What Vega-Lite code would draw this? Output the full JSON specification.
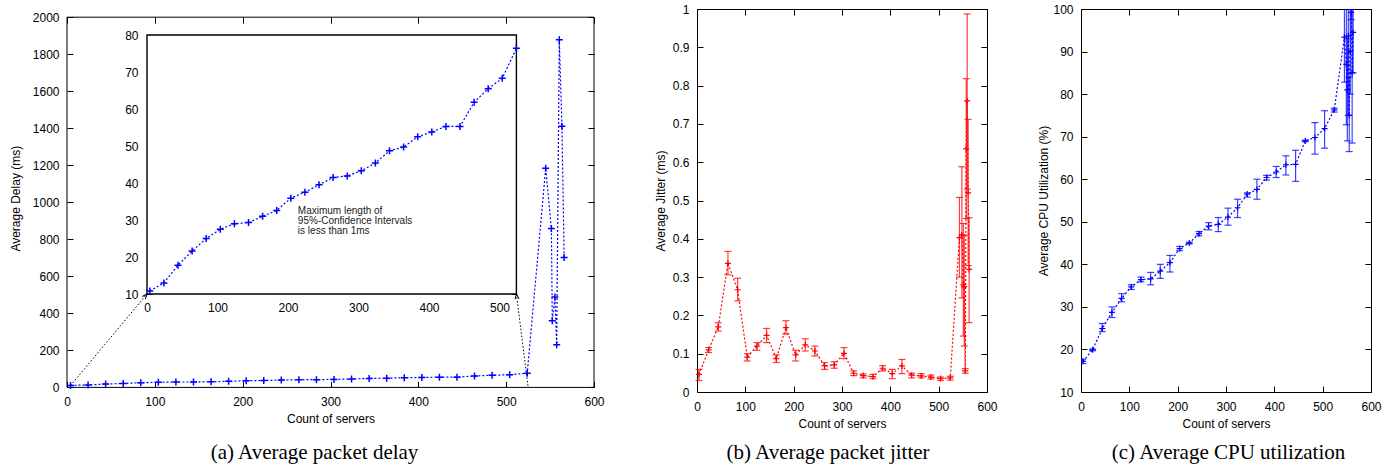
{
  "$schema": "https://vega.github.io/schema/vega-lite/v6.json",
  "background": "white",
  "padding": {"left": 9, "top": 2, "right": 0, "bottom": 0},
  "config": {
    "view": {"stroke": "#000", "strokeWidth": 1},
    "axis": {"domain": false, "grid": false, "tickColor": "#000", "tickSize": -6, "tickWidth": 1,
      "labelFont": "Liberation Sans", "labelFontSize": 12, "labelColor": "#000", "labelFlush": false, "labelOverlap": false,
      "titleFont": "Liberation Sans", "titleFontSize": 12, "titleFontWeight": "normal", "titleColor": "#000"},
    "axisX": {"labelPadding": 15, "titlePadding": 6},
    "axisY": {"labelPadding": 14},
    "title": {"font": "Liberation Serif", "fontSize": 21, "fontWeight": "normal", "color": "#000", "orient": "bottom", "anchor": "middle", "frame": "group"}
  },
  "datasets": {
    "delay": [
      {"x": 4, "y": 10.8}, {"x": 24, "y": 13.0}, {"x": 44, "y": 17.8}, {"x": 64, "y": 21.6}, {"x": 84, "y": 25.0},
      {"x": 104, "y": 27.5}, {"x": 124, "y": 29.0}, {"x": 144, "y": 29.3}, {"x": 164, "y": 31.0}, {"x": 184, "y": 32.6},
      {"x": 204, "y": 35.9}, {"x": 224, "y": 37.5}, {"x": 244, "y": 39.5}, {"x": 264, "y": 41.5}, {"x": 284, "y": 41.9},
      {"x": 304, "y": 43.3}, {"x": 324, "y": 45.4}, {"x": 344, "y": 48.7}, {"x": 364, "y": 49.7}, {"x": 384, "y": 52.5},
      {"x": 404, "y": 53.8}, {"x": 424, "y": 55.3}, {"x": 444, "y": 55.3}, {"x": 464, "y": 61.8}, {"x": 484, "y": 65.5},
      {"x": 504, "y": 68.3}, {"x": 524, "y": 76.4},
      {"x": 545, "y": 1184}, {"x": 551.5, "y": 858}, {"x": 552.5, "y": 360}, {"x": 555.5, "y": 488},
      {"x": 557.5, "y": 230}, {"x": 560.5, "y": 1878}, {"x": 563.5, "y": 1411}, {"x": 566, "y": 702}
    ],
    "zoomlines": [
      {"seg": "l", "x": 4, "y": 10}, {"seg": "l", "x": 91.1, "y": 504.6},
      {"seg": "r", "x": 525, "y": 0}, {"seg": "r", "x": 511.7, "y": 504.6}
    ],
    "arrows": [
      {"x": 91.1, "y": 504.6, "angle": 40},
      {"x": 511.7, "y": 504.6, "angle": -7}
    ],
    "jitter": [
      {"x": 4, "y": 0.046, "lo": 0.030, "hi": 0.059}, {"x": 24, "y": 0.110, "lo": 0.103, "hi": 0.116},
      {"x": 44, "y": 0.170, "lo": 0.159, "hi": 0.181}, {"x": 64, "y": 0.336, "lo": 0.306, "hi": 0.367},
      {"x": 84, "y": 0.267, "lo": 0.238, "hi": 0.297}, {"x": 104, "y": 0.091, "lo": 0.081, "hi": 0.100},
      {"x": 124, "y": 0.120, "lo": 0.109, "hi": 0.129}, {"x": 144, "y": 0.148, "lo": 0.129, "hi": 0.166},
      {"x": 164, "y": 0.087, "lo": 0.077, "hi": 0.097}, {"x": 184, "y": 0.168, "lo": 0.151, "hi": 0.186},
      {"x": 204, "y": 0.097, "lo": 0.081, "hi": 0.109}, {"x": 224, "y": 0.123, "lo": 0.107, "hi": 0.139},
      {"x": 244, "y": 0.107, "lo": 0.094, "hi": 0.120}, {"x": 264, "y": 0.068, "lo": 0.059, "hi": 0.077},
      {"x": 284, "y": 0.071, "lo": 0.062, "hi": 0.079}, {"x": 304, "y": 0.101, "lo": 0.087, "hi": 0.116},
      {"x": 324, "y": 0.049, "lo": 0.043, "hi": 0.055}, {"x": 344, "y": 0.043, "lo": 0.037, "hi": 0.047},
      {"x": 364, "y": 0.040, "lo": 0.035, "hi": 0.046}, {"x": 384, "y": 0.062, "lo": 0.055, "hi": 0.069},
      {"x": 404, "y": 0.048, "lo": 0.035, "hi": 0.059}, {"x": 424, "y": 0.068, "lo": 0.048, "hi": 0.085},
      {"x": 444, "y": 0.044, "lo": 0.037, "hi": 0.049}, {"x": 464, "y": 0.042, "lo": 0.037, "hi": 0.048},
      {"x": 484, "y": 0.039, "lo": 0.034, "hi": 0.044}, {"x": 504, "y": 0.035, "lo": 0.030, "hi": 0.039},
      {"x": 524, "y": 0.037, "lo": 0.031, "hi": 0.041},
      {"x": 543, "y": 0.403, "lo": 0.300, "hi": 0.508}, {"x": 548, "y": 0.410, "lo": 0.246, "hi": 0.588},
      {"x": 551, "y": 0.280, "lo": 0.146, "hi": 0.440}, {"x": 553, "y": 0.275, "lo": 0.120, "hi": 0.410},
      {"x": 555, "y": 0.055, "lo": 0.049, "hi": 0.061}, {"x": 557, "y": 0.635, "lo": 0.453, "hi": 0.818},
      {"x": 559, "y": 0.760, "lo": 0.530, "hi": 0.987}, {"x": 561, "y": 0.520, "lo": 0.330, "hi": 0.712},
      {"x": 563, "y": 0.320, "lo": 0.181, "hi": 0.455}
    ],
    "cpu": [
      {"x": 4, "y": 17.2, "lo": 16.7, "hi": 17.7}, {"x": 24, "y": 19.9, "lo": 19.7, "hi": 20.1},
      {"x": 44, "y": 24.9, "lo": 24.2, "hi": 26.1}, {"x": 64, "y": 28.7, "lo": 27.5, "hi": 30.0},
      {"x": 84, "y": 32.0, "lo": 31.2, "hi": 33.1}, {"x": 104, "y": 34.7, "lo": 34.1, "hi": 35.2},
      {"x": 124, "y": 36.4, "lo": 35.9, "hi": 37.0}, {"x": 144, "y": 36.6, "lo": 35.2, "hi": 38.1},
      {"x": 164, "y": 38.4, "lo": 36.7, "hi": 40.0}, {"x": 184, "y": 40.4, "lo": 38.2, "hi": 42.1},
      {"x": 204, "y": 43.7, "lo": 43.2, "hi": 44.2}, {"x": 224, "y": 45.0, "lo": 44.8, "hi": 45.2},
      {"x": 244, "y": 47.2, "lo": 46.7, "hi": 47.7}, {"x": 264, "y": 49.0, "lo": 48.1, "hi": 49.8},
      {"x": 284, "y": 49.4, "lo": 47.7, "hi": 51.0}, {"x": 304, "y": 51.1, "lo": 49.2, "hi": 53.2},
      {"x": 324, "y": 53.3, "lo": 51.0, "hi": 55.3}, {"x": 344, "y": 56.5, "lo": 55.8, "hi": 56.8},
      {"x": 364, "y": 57.6, "lo": 55.3, "hi": 60.0}, {"x": 384, "y": 60.4, "lo": 59.8, "hi": 60.9},
      {"x": 404, "y": 61.7, "lo": 60.4, "hi": 63.0}, {"x": 424, "y": 63.4, "lo": 61.0, "hi": 65.5},
      {"x": 444, "y": 63.5, "lo": 59.5, "hi": 66.8}, {"x": 464, "y": 69.0, "lo": 68.8, "hi": 69.2},
      {"x": 484, "y": 69.8, "lo": 65.9, "hi": 73.3}, {"x": 504, "y": 71.9, "lo": 67.3, "hi": 76.1},
      {"x": 524, "y": 76.3, "lo": 75.8, "hi": 76.7},
      {"x": 545, "y": 93.4, "lo": 82.8, "hi": 104}, {"x": 549, "y": 87.0, "lo": 72.8, "hi": 101},
      {"x": 551, "y": 81.0, "lo": 69.0, "hi": 93.0}, {"x": 553, "y": 93.7, "lo": 75.0, "hi": 104},
      {"x": 555, "y": 75.0, "lo": 66.5, "hi": 84.0}, {"x": 557, "y": 90.0, "lo": 80.0, "hi": 100.5},
      {"x": 559, "y": 99.2, "lo": 97.5, "hi": 101}, {"x": 561, "y": 85.0, "lo": 68.5, "hi": 101},
      {"x": 563, "y": 94.5, "lo": 85.0, "hi": 104}
    ]
  },
  "spacing": 48,
  "hconcat": [
    {
      "width": 527,
      "height": 378.4,
      "view": {"stroke": null},
      "title": {"text": "(a) Average packet delay", "dx": -16, "offset": 18},
      "layer": [
        {
          "layer": [
            {
              "data": {"values": [{"frame": 1}]},
              "mark": {"type": "rect", "fill": null, "fillOpacity": 0, "stroke": "#000", "strokeWidth": 1},
              "encoding": {
                "x": {"datum": 0, "type": "quantitative", "scale": {"domain": [0, 600], "nice": false},
                  "axis": {"orient": "bottom", "values": [0, 100, 200, 300, 400, 500, 600], "title": "Count of servers"}},
                "x2": {"datum": 600},
                "y": {"datum": 0, "type": "quantitative", "scale": {"domain": [0, 2044.3], "nice": false},
                  "axis": {"orient": "left", "values": [0, 200, 400, 600, 800, 1000, 1200, 1400, 1600, 1800, 2000], "format": "d", "title": "Average Delay (ms)", "titlePadding": 9.5}},
                "y2": {"datum": 2000}
              }
            },
            {
              "data": {"name": "zoomlines"},
              "mark": {"type": "line", "color": "#000", "strokeWidth": 1, "strokeDash": [1.5, 2]},
              "encoding": {
                "x": {"field": "x", "type": "quantitative", "axis": null},
                "y": {"field": "y", "type": "quantitative", "axis": null},
                "detail": {"field": "seg"}
              }
            },
            {
              "data": {"name": "arrows"},
              "mark": {"type": "point", "shape": "M-0.4,1L0,0L0.4,1", "filled": false, "color": "#000", "size": 100, "strokeWidth": 1, "opacity": 1},
              "encoding": {
                "x": {"field": "x", "type": "quantitative", "axis": null},
                "y": {"field": "y", "type": "quantitative", "axis": null},
                "angle": {"field": "angle", "type": "quantitative", "scale": null}
              }
            },
            {
              "data": {"name": "delay"},
              "mark": {"type": "line", "color": "#0000ff", "strokeWidth": 1.2, "strokeDash": [2, 2]},
              "encoding": {
                "x": {"field": "x", "type": "quantitative", "axis": null},
                "y": {"field": "y", "type": "quantitative", "axis": null}
              }
            },
            {
              "data": {"name": "delay"},
              "mark": {"type": "point", "shape": "M-1,0L1,0M0,-1L0,1", "filled": false, "color": "#0000ff", "size": 49, "strokeWidth": 1.5, "opacity": 1},
              "encoding": {
                "x": {"field": "x", "type": "quantitative", "axis": {"orient": "top", "offset": -8.2, "labels": false, "values": [0, 100, 200, 300, 400, 500, 600], "title": null}},
                "y": {"field": "y", "type": "quantitative", "axis": {"orient": "right", "labels": false, "values": [0, 200, 400, 600, 800, 1000, 1200, 1400, 1600, 1800, 2000], "title": null}}
              }
            }
          ],
          "resolve": {"axis": {"x": "independent", "y": "independent"}}
        },
        {
          "layer": [
            {
              "data": {"values": [{"frame": 1}]},
              "mark": {"type": "rect", "fill": "white", "stroke": "#000", "strokeWidth": 1.4},
              "encoding": {
                "x": {"datum": 0, "type": "quantitative", "scale": {"domain": [0, 524], "range": [80, 449.4], "nice": false},
                  "axis": {"orient": "bottom", "offset": -93.4, "values": [0, 100, 200, 300, 400, 500], "title": null, "tickSize": -5, "labelPadding": 13}},
                "x2": {"datum": 524},
                "y": {"datum": 10, "type": "quantitative", "scale": {"domain": [10, 80], "range": [285.0, 26.0], "nice": false},
                  "axis": {"orient": "left", "offset": -80, "values": [10, 20, 30, 40, 50, 60, 70, 80], "title": null, "tickSize": -5, "labelPadding": 14}},
                "y2": {"datum": 80}
              }
            },
            {
              "data": {"name": "delay"},
              "transform": [{"filter": "datum.x <= 524"}],
              "mark": {"type": "line", "color": "#0000ff", "strokeWidth": 1.2, "strokeDash": [2, 2]},
              "encoding": {
                "x": {"field": "x", "type": "quantitative", "axis": null},
                "y": {"field": "y", "type": "quantitative", "axis": null}
              }
            },
            {
              "data": {"name": "delay"},
              "transform": [{"filter": "datum.x <= 524"}],
              "mark": {"type": "point", "shape": "M-1,0L1,0M0,-1L0,1", "filled": false, "color": "#0000ff", "size": 49, "strokeWidth": 1.5, "opacity": 1},
              "encoding": {
                "x": {"field": "x", "type": "quantitative", "axis": {"orient": "top", "offset": -26.0, "labels": false, "values": [0, 100, 200, 300, 400, 500], "title": null, "tickSize": -5}},
                "y": {"field": "y", "type": "quantitative", "axis": {"orient": "right", "offset": -77.6, "labels": false, "values": [10, 20, 30, 40, 50, 60, 70, 80], "title": null, "tickSize": -5}}
              }
            },
            {
              "data": {"values": [{"note": 1}]},
              "mark": {"type": "text", "text": ["Maximum length of", "95%-Confidence Intervals", "is less than 1ms"], "align": "left", "baseline": "top", "font": "Liberation Sans", "fontSize": 10, "lineHeight": 10, "color": "#222"},
              "encoding": {
                "x": {"datum": 214, "type": "quantitative", "axis": null},
                "y": {"datum": 33.7, "type": "quantitative", "axis": null}
              }
            }
          ],
          "resolve": {"axis": {"x": "independent", "y": "independent"}}
        }
      ],
      "resolve": {"scale": {"x": "independent", "y": "independent"}}
    },
    {
      "spacing": 39,
      "hconcat": [
        {
          "width": 290,
          "height": 383,
          "title": {"text": "(b) Average packet jitter", "dx": -14, "offset": 13},
          "data": {"name": "jitter"},
          "layer": [
            {
              "mark": {"type": "rule", "color": "#ff0000", "opacity": 0.75, "strokeWidth": 1.2},
              "encoding": {
                "x": {"field": "x", "type": "quantitative", "scale": {"domain": [0, 600], "nice": false},
                  "axis": {"orient": "bottom", "values": [0, 100, 200, 300, 400, 500, 600], "title": "Count of servers"}},
                "y": {"field": "lo", "type": "quantitative", "scale": {"domain": [0, 1], "nice": false},
                  "axis": {"orient": "left", "values": [0, 0.1, 0.2, 0.3, 0.4, 0.5, 0.6, 0.7, 0.8, 0.9, 1], "format": "~g", "title": "Average Jitter (ms)", "titlePadding": 4.9}},
                "y2": {"field": "hi"}
              }
            },
            {
              "mark": {"type": "tick", "orient": "horizontal", "color": "#ff0000", "opacity": 0.75, "size": 7, "thickness": 1.2},
              "encoding": {
                "x": {"field": "x", "type": "quantitative", "axis": null},
                "y": {"field": "lo", "type": "quantitative", "axis": null}
              }
            },
            {
              "mark": {"type": "tick", "orient": "horizontal", "color": "#ff0000", "opacity": 0.75, "size": 7, "thickness": 1.2},
              "encoding": {
                "x": {"field": "x", "type": "quantitative", "axis": null},
                "y": {"field": "hi", "type": "quantitative", "axis": null}
              }
            },
            {
              "mark": {"type": "line", "color": "#ff0000", "strokeWidth": 1.2, "strokeDash": [2, 2]},
              "encoding": {
                "x": {"field": "x", "type": "quantitative", "axis": null},
                "y": {"field": "y", "type": "quantitative", "axis": null}
              }
            },
            {
              "mark": {"type": "point", "shape": "M-1,0L1,0M0,-1L0,1", "filled": false, "color": "#ff0000", "size": 36, "strokeWidth": 1.2, "opacity": 1},
              "encoding": {
                "x": {"field": "x", "type": "quantitative", "axis": {"orient": "top", "labels": false, "values": [0, 100, 200, 300, 400, 500, 600], "title": null}},
                "y": {"field": "y", "type": "quantitative", "axis": {"orient": "right", "labels": false, "values": [0, 0.1, 0.2, 0.3, 0.4, 0.5, 0.6, 0.7, 0.8, 0.9, 1], "title": null}}
              }
            }
          ],
          "resolve": {"axis": {"x": "independent", "y": "independent"}}
        },
        {
          "width": 290,
          "height": 383,
          "title": {"text": "(c) Average CPU utilization", "dx": 2.5, "offset": 13},
          "data": {"name": "cpu"},
          "layer": [
            {
              "mark": {"type": "rule", "color": "#0000ff", "opacity": 0.75, "strokeWidth": 1.2, "clip": true},
              "encoding": {
                "x": {"field": "x", "type": "quantitative", "scale": {"domain": [0, 600], "nice": false},
                  "axis": {"orient": "bottom", "values": [0, 100, 200, 300, 400, 500, 600], "title": "Count of servers"}},
                "y": {"field": "lo", "type": "quantitative", "scale": {"domain": [10, 100], "nice": false},
                  "axis": {"orient": "left", "values": [10, 20, 30, 40, 50, 60, 70, 80, 90, 100], "title": "Average CPU Utilization (%)", "titlePadding": 2.4}},
                "y2": {"field": "hi"}
              }
            },
            {
              "mark": {"type": "tick", "orient": "horizontal", "color": "#0000ff", "opacity": 0.75, "size": 7, "thickness": 1.2, "clip": true},
              "encoding": {
                "x": {"field": "x", "type": "quantitative", "axis": null},
                "y": {"field": "lo", "type": "quantitative", "axis": null}
              }
            },
            {
              "mark": {"type": "tick", "orient": "horizontal", "color": "#0000ff", "opacity": 0.75, "size": 7, "thickness": 1.2, "clip": true},
              "encoding": {
                "x": {"field": "x", "type": "quantitative", "axis": null},
                "y": {"field": "hi", "type": "quantitative", "axis": null}
              }
            },
            {
              "mark": {"type": "line", "color": "#0000ff", "strokeWidth": 1.2, "strokeDash": [2, 2], "clip": true},
              "encoding": {
                "x": {"field": "x", "type": "quantitative", "axis": null},
                "y": {"field": "y", "type": "quantitative", "axis": null}
              }
            },
            {
              "mark": {"type": "point", "shape": "M-1,0L1,0M0,-1L0,1", "filled": false, "color": "#0000ff", "size": 36, "strokeWidth": 1.2, "opacity": 1, "clip": true},
              "encoding": {
                "x": {"field": "x", "type": "quantitative", "axis": {"orient": "top", "labels": false, "values": [0, 100, 200, 300, 400, 500, 600], "title": null}},
                "y": {"field": "y", "type": "quantitative", "axis": {"orient": "right", "labels": false, "values": [10, 20, 30, 40, 50, 60, 70, 80, 90, 100], "title": null}}
              }
            }
          ],
          "resolve": {"axis": {"x": "independent", "y": "independent"}}
        }
      ]
    }
  ]
}
